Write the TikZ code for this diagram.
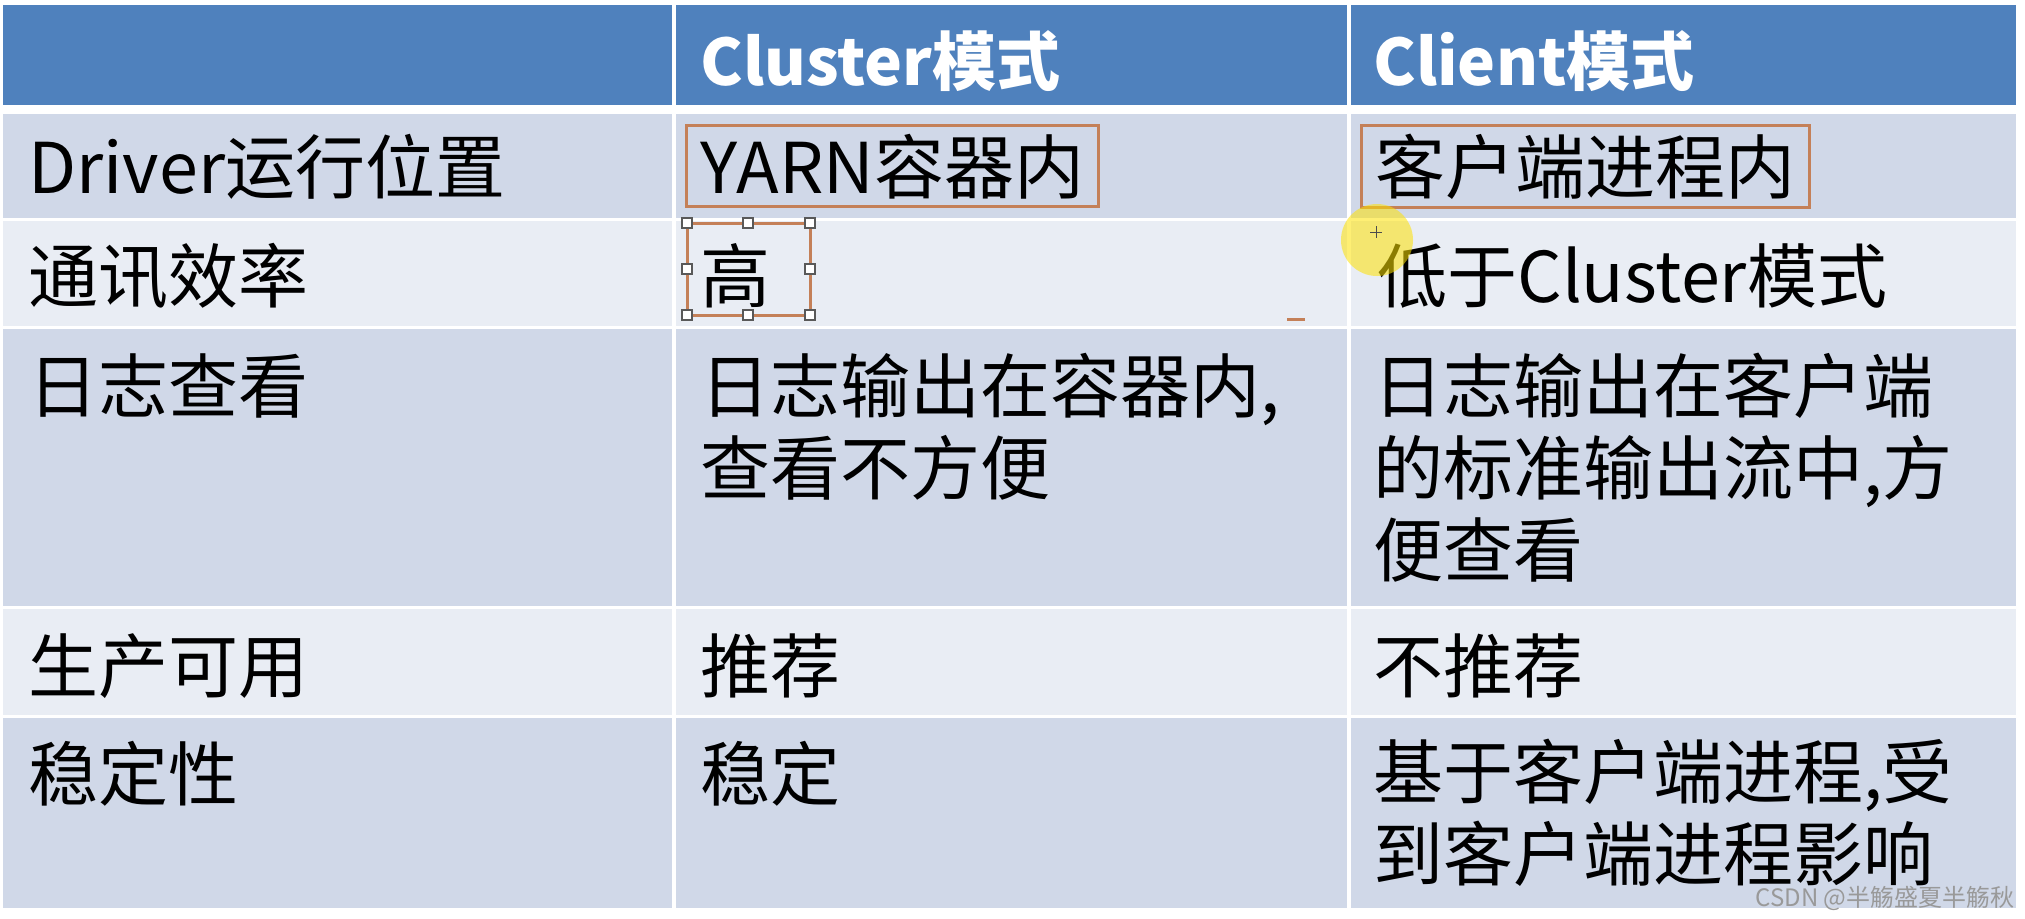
\documentclass[tikz,border=0pt]{standalone}
\usepackage{fontspec}
\setmainfont{Noto Sans CJK SC}
\usepackage{tikz}
\definecolor{headblue}{RGB}{79,129,189}
\definecolor{banddark}{RGB}{208,216,232}
\definecolor{bandlight}{RGB}{233,237,244}
\definecolor{markbrown}{RGB}{196,128,88}
\tikzstyle{cell} = [anchor=base west, inner sep=0pt, font=\fontsize{35}{41}\selectfont]
\tikzstyle{headcell} = [cell, text=white, font=\fontsize{32}{40}\selectfont\bfseries]
\tikzstyle{markbox} = [draw=markbrown, line width=1.5pt, inner xsep=7pt, inner ysep=4pt]
\tikzstyle{grip} = [draw=black!65, fill=white, line width=0.6pt]

\begin{document}
\begin{tikzpicture}[x=0.5pt,y=-0.5pt]
			\fill[white] (0,0) rectangle (2025,918);
			\useasboundingbox (0,0) rectangle (2025,918);
			% header row
			\fill[headblue] (3,5) rectangle (672,105);
			\fill[headblue] (676,5) rectangle (1347,105);
			\fill[headblue] (1351,5) rectangle (2016,105);
			% body rows
			\fill[banddark] (3,114) rectangle (672,218);
			\fill[banddark] (676,114) rectangle (1347,218);
			\fill[banddark] (1351,114) rectangle (2016,218);
			\fill[bandlight] (3,221) rectangle (672,326);
			\fill[bandlight] (676,221) rectangle (1347,326);
			\fill[bandlight] (1351,221) rectangle (2016,326);
			\fill[banddark] (3,329) rectangle (672,606);
			\fill[banddark] (676,329) rectangle (1347,606);
			\fill[banddark] (1351,329) rectangle (2016,606);
			\fill[bandlight] (3,609) rectangle (672,715);
			\fill[bandlight] (676,609) rectangle (1347,715);
			\fill[bandlight] (1351,609) rectangle (2016,715);
			\fill[banddark] (3,718) rectangle (672,908);
			\fill[banddark] (676,718) rectangle (1347,908);
			\fill[banddark] (1351,718) rectangle (2016,908);
			% texts (multi-line cells sit on their last line)
			\node[headcell] (hcluster) at (700,85) {Cluster模式};
			\node[headcell] (hclient) at (1373,85) {Client模式};
			\node[cell] (kdriver) at (28,193) {Driver运行位置};
			\node[cell, markbox] (vdriverA) at (685,193) {YARN容器内};
			\node[cell, markbox] (vdriverB) at (1360,193) {客户端进程内};
			\node[cell] (kcomm) at (28,302) {通讯效率};
			\node[cell] (vcommA) at (700,302) {高};
			\node[cell] (vcommB) at (1377,302) {低于Cluster模式};
			\node[cell] (klog) at (28,412) {日志查看};
			\node[cell, align=left] (vlogA) at (700,494) {日志输出在容器内,\\查看不方便};
			\node[cell, align=left] (vlogB) at (1373,576) {日志输出在客户端\\的标准输出流中,方\\便查看};
			\node[cell] (kprod) at (28,692) {生产可用};
			\node[cell] (vprodA) at (700,692) {推荐};
			\node[cell] (vprodB) at (1373,692) {不推荐};
			\node[cell] (kstab) at (28,800) {稳定性};
			\node[cell] (vstabA) at (700,800) {稳定};
			\node[cell, align=left] (vstabB) at (1373,880) {基于客户端进程,受\\到客户端进程影响};
			% selection frame round the cell text
			\draw[markbrown, line width=1.5pt] (687,223) rectangle (810,315);
			\draw[grip] (682,218) rectangle (692,228);
			\draw[grip] (743,218) rectangle (753,228);
			\draw[grip] (805,218) rectangle (815,228);
			\draw[grip] (682,264) rectangle (692,274);
			\draw[grip] (805,264) rectangle (815,274);
			\draw[grip] (682,310) rectangle (692,320);
			\draw[grip] (743,310) rectangle (753,320);
			\draw[grip] (805,310) rectangle (815,320);
			\draw[markbrown, line width=1.5pt] (1287,319) -- (1305,319);
			% pointer
			\fill[yellow!85!orange, opacity=0.55] (1377,240) circle[radius=36];
			\draw[black!70, line width=0.5pt] (1370,232) -- (1382,232) (1376,226) -- (1376,238);
			\node[anchor=base east, inner sep=0pt, text=black!40, font=\fontsize{12}{12}\selectfont] (wmark) at (2015,906) {CSDN @半觞盛夏半觞秋};
		\end{tikzpicture}
\end{document}
